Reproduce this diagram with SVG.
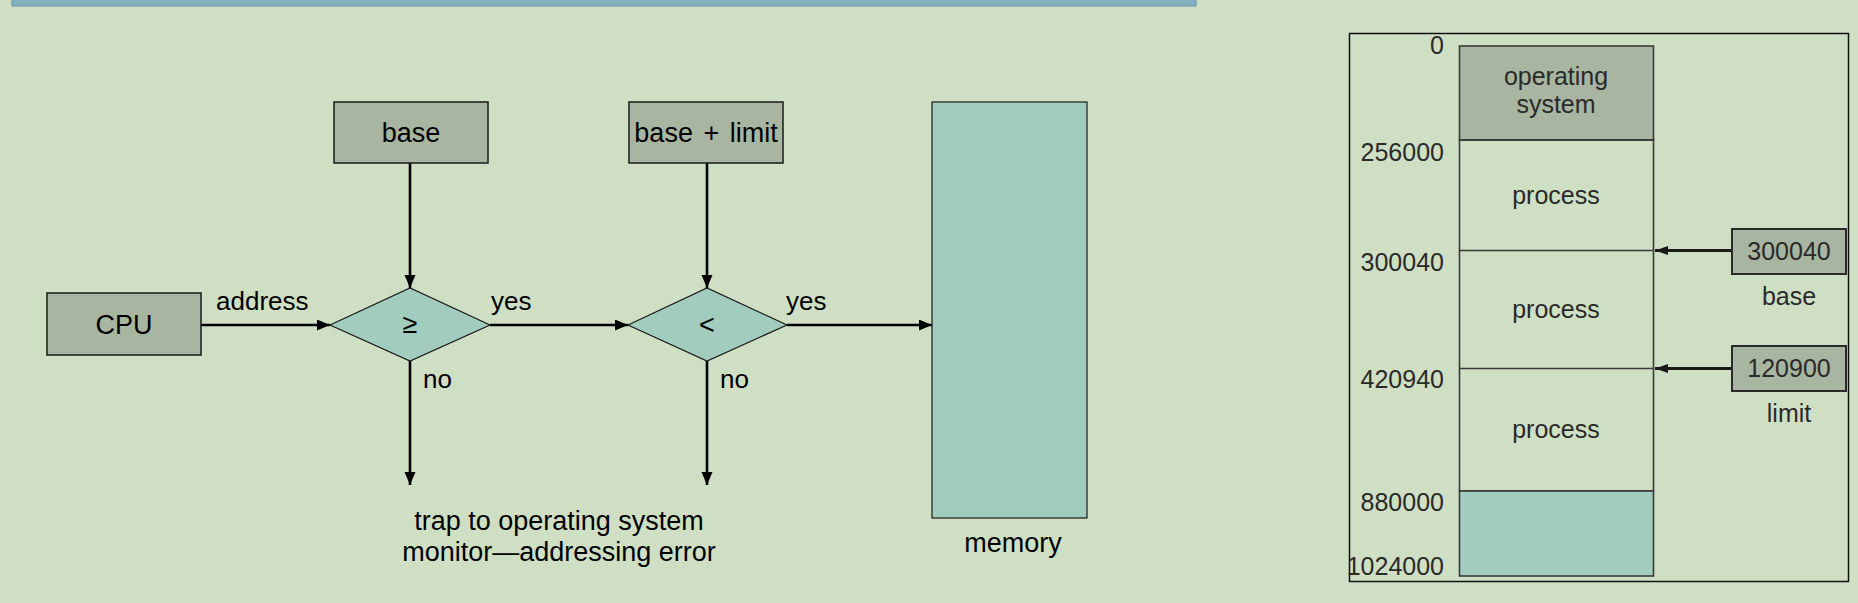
<svg xmlns="http://www.w3.org/2000/svg" width="1858" height="603" viewBox="0 0 1858 603">
<defs>
<style>
text{font-family:"Liberation Sans",Arial,sans-serif;}
.t{font-size:27px;fill:#000;text-anchor:middle;}
.lbl{font-size:26px;fill:#000;}
.box{fill:#a8b5a0;stroke:#1a1a1a;stroke-width:1.5;}
.dia{fill:#a2cdbe;stroke:#1a1a1a;stroke-width:1.2;}
.conn{stroke:#000;stroke-width:2.6;fill:none;marker-end:url(#ah);}
.rn{font-size:25px;fill:#2a2a2a;text-anchor:end;}
.rc{font-size:25px;fill:#2a2a2a;text-anchor:middle;}
.mem{stroke:#3a3a3a;stroke-width:1.6;}
.rbox{fill:#a8b5a0;stroke:#2a2a2a;stroke-width:2;}
.rarr{stroke:#1a1a1a;stroke-width:3;fill:none;marker-end:url(#ah2);}
</style>
<marker id="ah" markerUnits="userSpaceOnUse" markerWidth="14" markerHeight="12" refX="13" refY="5.5" orient="auto">
<path d="M0,0 L13,5.5 L0,11 Z" fill="#000"/>
</marker>
<marker id="ah2" markerUnits="userSpaceOnUse" markerWidth="14" markerHeight="10" refX="13" refY="4.5" orient="auto">
<path d="M0,0 L13,4.5 L0,9 Z" fill="#1a1a1a"/>
</marker>
</defs>
<rect x="0" y="0" width="1858" height="603" fill="#cfdfc4"/>
<rect id="banner" x="12" y="-4" width="1184" height="10" fill="#82b0bf" stroke="#6f9fae" stroke-width="1.2"/>

<g id="connectors">
<line class="conn" x1="201" y1="325" x2="330" y2="325"/>
<line class="conn" x1="410" y1="163" x2="410" y2="288"/>
<line class="conn" x1="490" y1="325" x2="628" y2="325"/>
<line class="conn" x1="707" y1="163" x2="707" y2="288"/>
<line class="conn" x1="787" y1="325" x2="932" y2="325"/>
<line class="conn" x1="410" y1="361" x2="410" y2="485"/>
<line class="conn" x1="707" y1="361" x2="707" y2="485"/>
<text class="lbl" x="216" y="310">address</text>
<text class="lbl" x="491" y="310">yes</text>
<text class="lbl" x="786" y="310">yes</text>
<text class="lbl" x="423" y="388">no</text>
<text class="lbl" x="720" y="388">no</text>
</g>

<g id="cpu">
<rect class="box" x="47" y="293" width="154" height="62"/>
<text class="t" x="124" y="334">CPU</text>
</g>
<g id="base">
<rect class="box" x="334" y="102" width="154" height="61"/>
<text class="t" x="411" y="142">base</text>
</g>
<g id="baselimit">
<rect class="box" x="629" y="102" width="154" height="61"/>
<text class="t" x="706" y="142" word-spacing="3">base + limit</text>
</g>
<g id="cmp1">
<polygon class="dia" points="330,325 410,288 490,325 410,361"/>
<text class="t" x="410" y="333">≥</text>
</g>
<g id="cmp2">
<polygon class="dia" points="628,325 707,288 787,325 707,361"/>
<text class="t" x="707" y="334">&lt;</text>
</g>
<g id="memory">
<rect x="932" y="102" width="155" height="416" fill="#a2cdbe" stroke="#1a1a1a" stroke-width="1.2"/>
<text class="t" x="1013" y="552">memory</text>
</g>
<g id="trap">
<text class="t" x="559" y="530">trap to operating system</text>
<text class="t" x="559" y="561">monitor—addressing error</text>
</g>

<g id="memmap">
<rect x="1349.5" y="33.5" width="499" height="548" fill="none" stroke="#111" stroke-width="1.5"/>
<rect x="1459.5" y="46" width="194" height="94" fill="#a8b5a0" class="mem"/>
<rect x="1459.5" y="140" width="194" height="351" fill="none" class="mem"/>
<line class="mem" x1="1459.5" y1="250.5" x2="1653.5" y2="250.5"/>
<line class="mem" x1="1459.5" y1="368.5" x2="1653.5" y2="368.5"/>
<rect x="1459.5" y="491" width="194" height="85" fill="#a2cdbe" class="mem"/>
<text class="rc" x="1556" y="85">operating</text>
<text class="rc" x="1556" y="113">system</text>
<text class="rc" x="1556" y="204">process</text>
<text class="rc" x="1556" y="318">process</text>
<text class="rc" x="1556" y="438">process</text>
<text class="rn" x="1444" y="54">0</text>
<text class="rn" x="1444" y="161">256000</text>
<text class="rn" x="1444" y="271">300040</text>
<text class="rn" x="1444" y="388">420940</text>
<text class="rn" x="1444" y="511">880000</text>
<text class="rn" x="1444" y="575">1024000</text>
</g>
<g id="regarrows">
<line class="rarr" x1="1732" y1="250.5" x2="1655" y2="250.5"/>
<line class="rarr" x1="1732" y1="368.5" x2="1655" y2="368.5"/>
</g>
<g id="basereg">
<rect class="rbox" x="1732" y="229" width="114" height="45"/>
<text class="rc" x="1789" y="260">300040</text>
<text class="rc" x="1789" y="305">base</text>
</g>
<g id="limitreg">
<rect class="rbox" x="1732" y="346" width="114" height="45"/>
<text class="rc" x="1789" y="377">120900</text>
<text class="rc" x="1789" y="422">limit</text>
</g>
</svg>
